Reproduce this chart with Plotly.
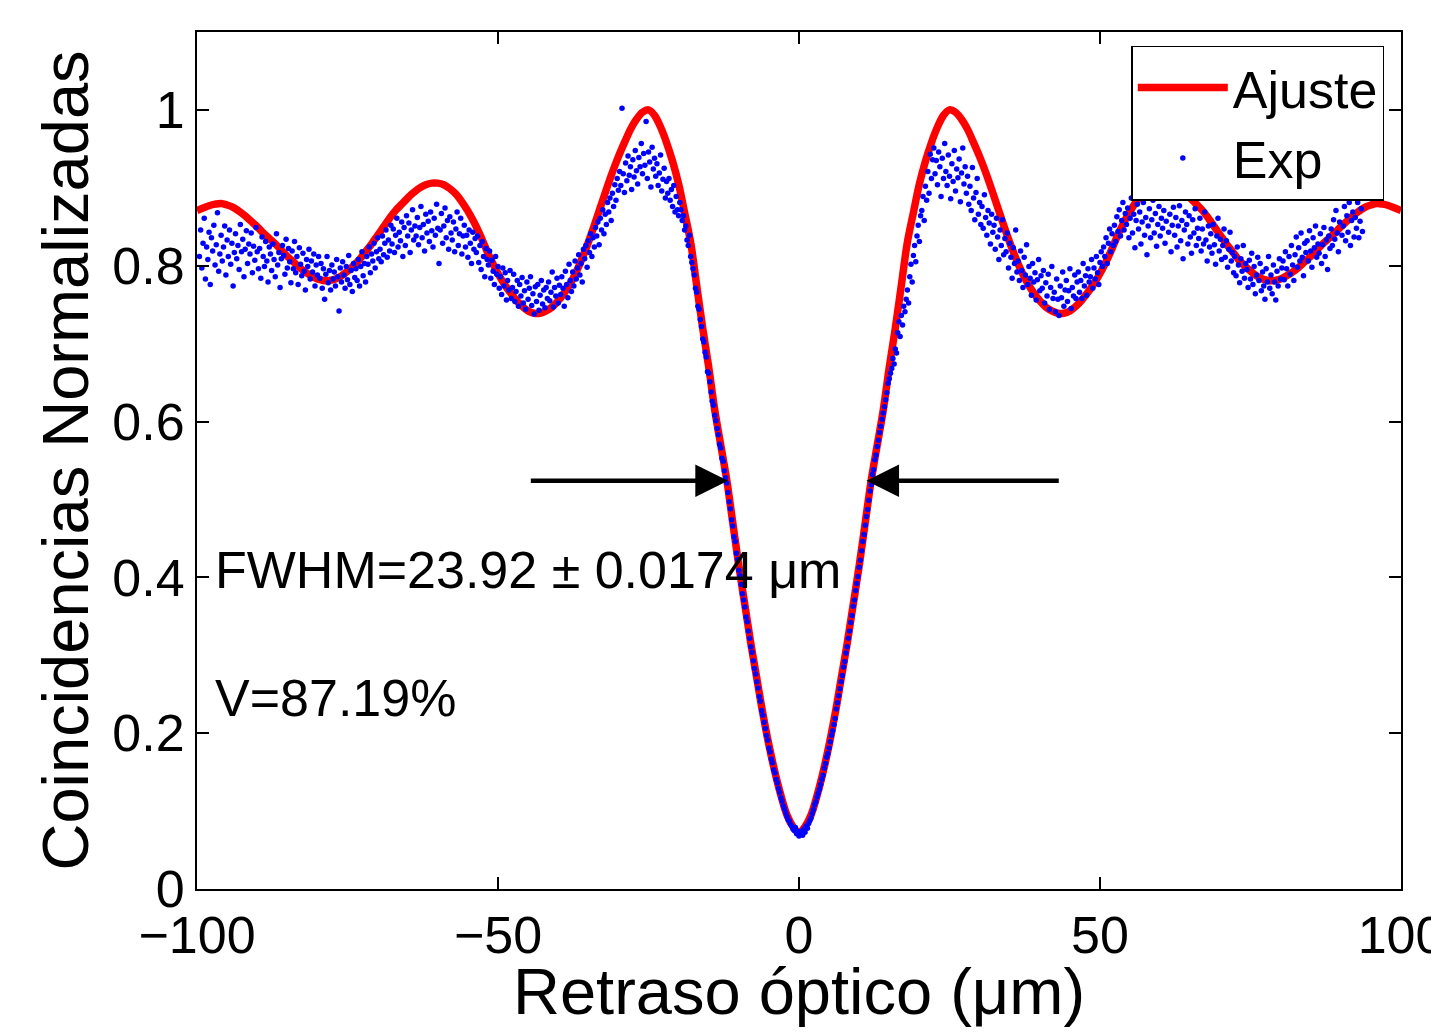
import plotly.graph_objects as go

# ---------------- data ----------------
# Fit curve ("Ajuste"), symmetric: values read at |x| = 0,1,...,100 µm
fit_abs_x = list(range(0, 101))
fit_half = [
    0.072, 0.080, 0.095, 0.120, 0.150, 0.185, 0.225, 0.270, 0.315, 0.365,
    0.415, 0.470, 0.525, 0.570, 0.615, 0.670, 0.720, 0.775, 0.830, 0.868,
    0.905, 0.934, 0.958, 0.978, 0.993, 1.000, 0.997, 0.988, 0.975, 0.958,
    0.940, 0.920, 0.898, 0.875, 0.852, 0.830, 0.810, 0.792, 0.777, 0.765,
    0.755, 0.747, 0.742, 0.739, 0.739, 0.742, 0.748, 0.756, 0.766, 0.777,
    0.790, 0.805, 0.822, 0.840, 0.856, 0.870, 0.882, 0.892, 0.899, 0.904,
    0.906, 0.906, 0.904, 0.900, 0.894, 0.887, 0.879, 0.871, 0.861, 0.850,
    0.839, 0.828, 0.818, 0.808, 0.800, 0.793, 0.787, 0.783, 0.781, 0.781,
    0.783, 0.787, 0.792, 0.798, 0.805, 0.812, 0.820, 0.828, 0.835, 0.842,
    0.850, 0.857, 0.864, 0.870, 0.875, 0.878, 0.880, 0.879, 0.877, 0.874,
    0.871,
]

# Experimental points ("Exp"), one every 0.2 µm starting at -99.6 µm
exp_x0 = -99.6
exp_dx = 0.2
exp_y = [
    0.812, 0.846, 0.797, 0.829, 0.861, 0.783, 0.824, 0.808, 0.843, 0.776,  # -99.6
    0.836, 0.819, 0.852, 0.801, 0.827, 0.868, 0.793, 0.815, 0.839, 0.806,  # -97.6
    0.824, 0.851, 0.788, 0.833, 0.812, 0.846, 0.802, 0.829, 0.774, 0.817,  # -95.6
    0.841, 0.809, 0.826, 0.795, 0.853, 0.818, 0.834, 0.786, 0.821, 0.845,  # -93.6
    0.803, 0.828, 0.815, 0.842, 0.791, 0.825, 0.807, 0.849, 0.818, 0.796,  # -91.6
    0.822, 0.784, 0.837, 0.812, 0.799, 0.831, 0.806, 0.779, 0.824, 0.815,  # -89.6
    0.794, 0.828, 0.808, 0.786, 0.841, 0.801, 0.817, 0.772, 0.809, 0.826,  # -87.6
    0.813, 0.789, 0.834, 0.797, 0.822, 0.805, 0.778, 0.819, 0.796, 0.831,  # -85.6
    0.791, 0.812, 0.776, 0.823, 0.802, 0.787, 0.816, 0.793, 0.769, 0.808,  # -83.6
    0.799, 0.821, 0.783, 0.806, 0.792, 0.815, 0.774, 0.801, 0.788, 0.812,  # -81.6
    0.784, 0.803, 0.771, 0.796, 0.757, 0.789, 0.812, 0.778, 0.794, 0.769,  # -79.6
    0.801, 0.783, 0.792, 0.774, 0.808, 0.786, 0.742, 0.797, 0.779, 0.805,  # -77.6
    0.788, 0.771, 0.799, 0.782, 0.813, 0.776, 0.794, 0.767, 0.803, 0.785,  # -75.6
    0.796, 0.781, 0.808, 0.774, 0.799, 0.818, 0.787, 0.803, 0.779, 0.812,  # -73.6
    0.802, 0.824, 0.791, 0.815, 0.806, 0.829, 0.797, 0.818, 0.836, 0.809,  # -71.6
    0.821, 0.805, 0.838, 0.814, 0.829, 0.846, 0.811, 0.833, 0.819, 0.852,  # -69.6
    0.828, 0.847, 0.817, 0.839, 0.861, 0.824, 0.843, 0.832, 0.856, 0.812,  # -67.6
    0.849, 0.826, 0.864, 0.838, 0.855, 0.817, 0.846, 0.872, 0.833, 0.851,  # -65.6
    0.838, 0.862, 0.827, 0.849, 0.876, 0.836, 0.853, 0.819, 0.866, 0.842,  # -63.6
    0.857, 0.831, 0.869, 0.845, 0.824, 0.861, 0.839, 0.879, 0.848, 0.803,  # -61.6
    0.846, 0.867, 0.829, 0.851, 0.874, 0.836, 0.858, 0.821, 0.863, 0.842,  # -59.6
    0.833, 0.856, 0.818, 0.847, 0.869, 0.826, 0.841, 0.861, 0.815, 0.838,  # -57.6
    0.852, 0.824, 0.839, 0.811, 0.846, 0.829, 0.803, 0.843, 0.821, 0.835,  # -55.6
    0.817, 0.838, 0.804, 0.826, 0.795, 0.831, 0.812, 0.786, 0.822, 0.808,  # -53.6
    0.801, 0.819, 0.784, 0.807, 0.793, 0.776, 0.812, 0.789, 0.799, 0.771,  # -51.6
    0.786, 0.763, 0.797, 0.774, 0.791, 0.756, 0.781, 0.769, 0.794, 0.758,  # -49.6
    0.772, 0.789, 0.754, 0.767, 0.781, 0.748, 0.776, 0.761, 0.785, 0.752,  # -47.6
    0.768, 0.744, 0.779, 0.757, 0.771, 0.786, 0.749, 0.764, 0.738, 0.773,  # -45.6
    0.754, 0.776, 0.743, 0.762, 0.781, 0.751, 0.769, 0.746, 0.772, 0.758,  # -43.6
    0.779, 0.755, 0.766, 0.792, 0.747, 0.772, 0.761, 0.784, 0.752, 0.775,  # -41.6
    0.763, 0.786, 0.771, 0.748, 0.793, 0.776, 0.759, 0.802, 0.781, 0.767,  # -39.6
    0.792, 0.774, 0.806, 0.783, 0.797, 0.814, 0.788, 0.803, 0.779, 0.821,  # -37.6
    0.809, 0.826, 0.798, 0.832, 0.817, 0.841, 0.812, 0.836, 0.824, 0.849,  # -35.6
    0.838, 0.856, 0.827, 0.861, 0.846, 0.872, 0.841, 0.866, 0.853, 0.881,  # -33.6
    0.869, 0.887, 0.858, 0.893, 0.876, 0.904, 0.884, 0.912, 0.897, 0.921,  # -31.6
    0.903, 1.002, 0.918, 0.894, 0.932, 0.909, 0.941, 0.916, 0.927, 0.898,  # -29.6
    0.936, 0.914, 0.948, 0.922, 0.905, 0.939, 0.927, 0.957, 0.918, 0.944,  # -27.6
    0.929, 0.985, 0.912, 0.946, 0.933, 0.901, 0.952, 0.924, 0.938, 0.915,  # -25.6
    0.931, 0.903, 0.919, 0.942, 0.896, 0.911, 0.925, 0.887, 0.908, 0.893,  # -23.6
    0.912, 0.884, 0.898, 0.876, 0.903, 0.869, 0.889, 0.872, 0.864, 0.881,  # -21.6
    0.872, 0.858, 0.864, 0.846, 0.851, 0.833, 0.826, 0.839, 0.812, 0.804,  # -19.6
    0.796, 0.788, 0.771, 0.766, 0.748, 0.744, 0.731, 0.722, 0.706, 0.702,  # -17.6
    0.689, 0.683, 0.664, 0.662, 0.651, 0.638, 0.626, 0.621, 0.608, 0.601,  # -15.6
    0.591, 0.583, 0.571, 0.566, 0.553, 0.549, 0.537, 0.528, 0.521, 0.509,  # -13.6
    0.497, 0.488, 0.474, 0.466, 0.452, 0.446, 0.431, 0.423, 0.409, 0.402,  # -11.6
    0.391, 0.379, 0.371, 0.362, 0.349, 0.343, 0.331, 0.322, 0.311, 0.304,  # -9.6
    0.293, 0.283, 0.276, 0.266, 0.258, 0.247, 0.241, 0.229, 0.223, 0.214,  # -7.6
    0.206, 0.197, 0.191, 0.181, 0.176, 0.167, 0.162, 0.153, 0.149, 0.141,  # -5.6
    0.136, 0.129, 0.124, 0.117, 0.113, 0.107, 0.103, 0.098, 0.093, 0.089,  # -3.6
    0.087, 0.083, 0.081, 0.077, 0.075, 0.079, 0.071, 0.074, 0.068, 0.072,  # -1.6
    0.074, 0.069, 0.077, 0.073, 0.081, 0.078, 0.084, 0.088, 0.091, 0.097,  # 0.4
    0.102, 0.108, 0.112, 0.118, 0.123, 0.128, 0.134, 0.141, 0.146, 0.155,  # 2.4
    0.161, 0.169, 0.174, 0.181, 0.189, 0.197, 0.203, 0.211, 0.219, 0.231,  # 4.4
    0.239, 0.248, 0.257, 0.266, 0.274, 0.285, 0.292, 0.303, 0.311, 0.322,  # 6.4
    0.331, 0.342, 0.351, 0.363, 0.371, 0.383, 0.392, 0.401, 0.413, 0.422,  # 8.4
    0.434, 0.446, 0.455, 0.467, 0.478, 0.487, 0.499, 0.511, 0.519, 0.532,  # 10.4
    0.538, 0.551, 0.557, 0.568, 0.576, 0.586, 0.594, 0.603, 0.611, 0.619,  # 12.4
    0.628, 0.637, 0.649, 0.655, 0.662, 0.668, 0.681, 0.674, 0.693, 0.688,  # 14.4
    0.714, 0.728, 0.709, 0.736, 0.724, 0.748, 0.741, 0.757, 0.769, 0.752,  # 16.4
    0.786, 0.802, 0.779, 0.813, 0.826, 0.805, 0.838, 0.852, 0.831, 0.864,  # 18.4
    0.871, 0.889, 0.858, 0.902, 0.884, 0.921, 0.893, 0.943, 0.912, 0.936,  # 20.4
    0.951, 0.918, 0.935, 0.904, 0.946, 0.927, 0.889, 0.938, 0.912, 0.957,  # 22.4
    0.921, 0.903, 0.942, 0.915, 0.886, 0.931, 0.908, 0.948, 0.896, 0.924,  # 24.4
    0.913, 0.937, 0.882, 0.919, 0.951, 0.905, 0.927, 0.893, 0.915, 0.879,  # 26.4
    0.902, 0.871, 0.926, 0.887, 0.859, 0.894, 0.912, 0.866, 0.881, 0.853,  # 28.4
    0.876, 0.848, 0.891, 0.862, 0.839, 0.871, 0.855, 0.828, 0.866, 0.843,  # 30.4
    0.852, 0.821, 0.861, 0.837, 0.808, 0.846, 0.826, 0.859, 0.814, 0.835,  # 32.4
    0.818, 0.842, 0.797, 0.829, 0.811, 0.784, 0.823, 0.803, 0.846, 0.792,  # 34.4
    0.806, 0.781, 0.819, 0.794, 0.772, 0.811, 0.788, 0.827, 0.776, 0.799,  # 36.4
    0.784, 0.762, 0.803, 0.779, 0.791, 0.756, 0.782, 0.808, 0.768, 0.787,  # 38.4
    0.771, 0.794, 0.752, 0.778, 0.761, 0.789, 0.744, 0.772, 0.799, 0.758,  # 40.4
    0.766, 0.741, 0.783, 0.757, 0.736, 0.774, 0.759, 0.792, 0.748, 0.769,  # 42.4
    0.781, 0.754, 0.768, 0.796, 0.745, 0.772, 0.761, 0.788, 0.758, 0.779,  # 44.4
    0.792, 0.766, 0.781, 0.758, 0.803, 0.774, 0.787, 0.762, 0.796, 0.779,  # 46.4
    0.786, 0.808, 0.771, 0.797, 0.783, 0.812, 0.791, 0.776, 0.804, 0.818,  # 48.4
    0.799, 0.824, 0.812, 0.836, 0.803, 0.829, 0.847, 0.818, 0.841, 0.826,  # 50.4
    0.852, 0.831, 0.863, 0.844, 0.872, 0.838, 0.858, 0.881, 0.846, 0.867,  # 52.4
    0.853, 0.874, 0.836, 0.861, 0.887, 0.842, 0.866, 0.823, 0.858, 0.879,  # 54.4
    0.847, 0.869, 0.828, 0.856, 0.881, 0.839, 0.862, 0.814, 0.851, 0.873,  # 56.4
    0.836, 0.859, 0.884, 0.842, 0.867, 0.825, 0.853, 0.876, 0.838, 0.861,  # 58.4
    0.848, 0.871, 0.829, 0.857, 0.889, 0.843, 0.866, 0.818, 0.852, 0.875,  # 60.4
    0.839, 0.862, 0.824, 0.851, 0.877, 0.832, 0.858, 0.809, 0.846, 0.869,  # 62.4
    0.853, 0.828, 0.864, 0.837, 0.816, 0.859, 0.842, 0.873, 0.826, 0.848,  # 64.4
    0.835, 0.861, 0.819, 0.847, 0.828, 0.869, 0.833, 0.806, 0.851, 0.824,  # 66.4
    0.841, 0.816, 0.853, 0.827, 0.802, 0.838, 0.861, 0.819, 0.834, 0.808,  # 68.4
    0.826, 0.847, 0.811, 0.832, 0.798, 0.821, 0.843, 0.806, 0.817, 0.791,  # 70.4
    0.812, 0.787, 0.824, 0.801, 0.778, 0.809, 0.793, 0.826, 0.784, 0.803,  # 72.4
    0.795, 0.772, 0.807, 0.783, 0.816, 0.776, 0.799, 0.764, 0.788, 0.811,  # 74.4
    0.781, 0.803, 0.768, 0.792, 0.774, 0.757, 0.796, 0.779, 0.812, 0.771,  # 76.4
    0.788, 0.764, 0.801, 0.779, 0.756, 0.793, 0.774, 0.809, 0.783, 0.797,  # 78.4
    0.806, 0.782, 0.818, 0.796, 0.774, 0.812, 0.789, 0.826, 0.801, 0.781,  # 80.4
    0.814, 0.837, 0.798, 0.823, 0.806, 0.842, 0.811, 0.787, 0.829, 0.817,  # 82.4
    0.832, 0.806, 0.845, 0.819, 0.798, 0.836, 0.823, 0.851, 0.811, 0.828,  # 84.4
    0.816, 0.841, 0.803, 0.827, 0.849, 0.812, 0.833, 0.795, 0.838, 0.822,  # 86.4
    0.847, 0.826, 0.859, 0.834, 0.871, 0.842, 0.818, 0.856, 0.887, 0.839,  # 88.4
    0.851, 0.876, 0.832, 0.864, 0.843, 0.881, 0.826, 0.858, 0.869, 0.837,  # 90.4
    0.862, 0.848, 0.881, 0.836, 0.857, 0.873, 0.844,                       # 92.4
]

x_tick_vals = [-100, -50, 0, 50, 100]
x_tick_text = ["\u2212100", "\u221250", "0", "50", "100"]
y_tick_vals = [0, 0.2, 0.4, 0.6, 0.8, 1.0]
y_tick_text = ["0", "0.2", "0.4", "0.6", "0.8", "1"]

# FWHM arrows (y level, (tail x, head x))
arrow_y = 0.524
arrow_left = (-44.8, -11.8)
arrow_right = (43.4, 11.2)

fwhm_text = "FWHM=23.92 \u00b1 0.0174 \u03bcm"
vis_text = "V=87.19%"
text_x = -97.3
fwhm_y = 0.41
vis_y = 0.245

x_title = "Retraso \u00f3ptico (\u03bcm)"
y_title = "Coincidencias Normalizadas"

# ---------------- build ----------------
fit_x = [-v for v in reversed(fit_abs_x[1:])] + fit_abs_x
fit_y = list(reversed(fit_half[1:])) + fit_half
exp_x = [round(exp_x0 + i * exp_dx, 2) for i in range(len(exp_y))]

FONT = "Liberation Sans, Arial, Helvetica, sans-serif"

fig = go.Figure()
fig.add_trace(go.Scatter(
    x=fit_x, y=fit_y, mode="lines", name="Ajuste",
    line=dict(color="#ff0000", width=7.5, shape="spline"),
))
fig.add_trace(go.Scatter(
    x=exp_x, y=exp_y, mode="markers", name="Exp",
    marker=dict(color="#0000ff", size=5.5, line=dict(width=0)),
))

for tail, head in (arrow_left, arrow_right):
    fig.add_annotation(
        x=head, y=arrow_y, ax=tail, ay=arrow_y,
        xref="x", yref="y", axref="x", ayref="y",
        showarrow=True, arrowhead=2, arrowsize=1.45, arrowwidth=4.5,
        arrowcolor="black", text="",
    )

fig.add_annotation(x=text_x, y=fwhm_y, xref="x", yref="y", text=fwhm_text,
                   showarrow=False, xanchor="left", yanchor="middle",
                   font=dict(family=FONT, size=52, color="black"))
fig.add_annotation(x=text_x, y=vis_y, xref="x", yref="y", text=vis_text,
                   showarrow=False, xanchor="left", yanchor="middle",
                   font=dict(family=FONT, size=52, color="black"))

# x-axis title placed as a paper annotation (closer to the tick labels)
fig.add_annotation(x=0.5, y=-0.12, xref="paper", yref="paper", text=x_title,
                   showarrow=False, xanchor="center", yanchor="middle",
                   font=dict(family=FONT, size=65, color="black"))

axis_common = dict(
    showgrid=False, zeroline=False, showline=True, linecolor="black",
    linewidth=2, mirror="ticks", ticks="inside", ticklen=12,
    tickcolor="black", tickwidth=1.5, ticklabeloverflow="allow",
    tickfont=dict(family=FONT, size=52, color="black"),
)

fig.update_xaxes(
    range=[-100, 100], tickvals=x_tick_vals, ticktext=x_tick_text,
    **axis_common,
)
fig.update_yaxes(
    range=[0, 1.1], tickvals=y_tick_vals, ticktext=y_tick_text,
    title=dict(text=y_title,
               font=dict(family=FONT, size=65, color="black"), standoff=3),
    **axis_common,
)

# page body has an 8 px margin: plot area spans 197..1401 x 32..889 on screen
fig.update_layout(
    width=1431, height=1026,
    margin=dict(l=189, r=38, t=24, b=145, autoexpand=False),
    paper_bgcolor="white", plot_bgcolor="white",
    font=dict(family=FONT, color="black"),
    legend=dict(
        x=0.776, y=0.984, xanchor="left", yanchor="top",
        bgcolor="white", bordercolor="black", borderwidth=1.5,
        font=dict(family=FONT, size=52, color="black"),
        itemwidth=90, tracegroupgap=0,
    ),
    showlegend=True,
)

fig.write_html("out.html")
